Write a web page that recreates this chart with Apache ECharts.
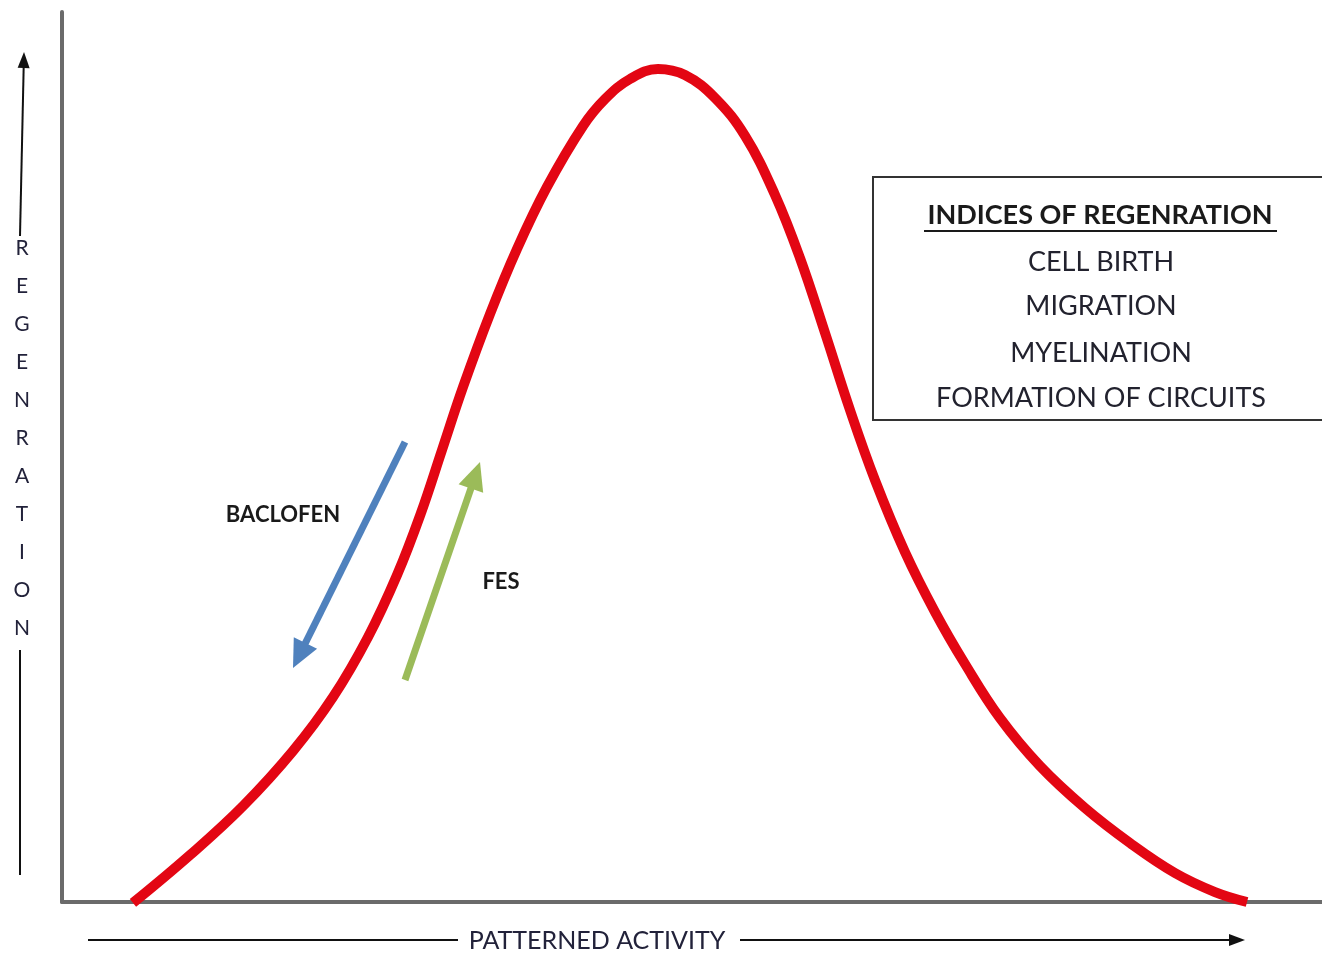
<!DOCTYPE html>
<html>
<head>
<meta charset="utf-8">
<title>Regeneration vs patterned activity</title>
<script src="https://cdn.jsdelivr.net/npm/echarts/dist/echarts.min.js"></script>
<style>
  html, body { margin: 0; padding: 0; background: #fff; }
  #main { width: 1322px; height: 956px; }
</style>
</head>
<body>
<div id="main"></div>
<script>
// curve: x = patterned activity, y = regeneration (0..100)
var activity = [5.63, 10.16, 14.37, 18.33, 21.51, 24.29, 26.59, 28.49, 30.16, 31.83, 33.97,
  36.11, 38.49, 41.35, 43.10, 45.08, 47.30, 49.44, 51.83, 54.21, 56.59, 58.57, 60.56,
  62.54, 64.52, 66.90, 69.29, 71.67, 74.44, 77.62, 81.19, 84.76, 88.33, 91.51, 94.05];
var regeneration = [-0.11, 5.28, 10.79, 16.97, 23.03, 29.78, 36.74, 43.71, 50.79, 57.87, 66.07,
  73.37, 80.34, 87.19, 90.22, 92.47, 93.60, 92.92, 90.34, 86.07, 79.44, 72.36, 63.93,
  55.28, 47.42, 39.33, 32.58, 26.74, 20.67, 15.28, 10.56, 6.63, 3.26, 1.12, 0.00];

var yLetters = ["R", "E", "G", "E", "N", "R", "A", "T", "I", "O", "N"];
var boxTitle = "INDICES OF REGENRATION";
var boxItems = ["CELL BIRTH", "MIGRATION", "MYELINATION", "FORMATION OF CIRCUITS"];

var font = "Lato, 'Open Sans', sans-serif";

// small helper for arrow heads on graphic lines
function arrowHead(x1, y1, x2, y2, len, half, color) {
  var dx = x2 - x1, dy = y2 - y1;
  var d = Math.sqrt(dx * dx + dy * dy);
  var ux = dx / d, uy = dy / d;
  var bx = x2 - ux * len, by = y2 - uy * len;
  return {
    type: "polygon",
    shape: { points: [[x2, y2], [bx - uy * half, by + ux * half], [bx + uy * half, by - ux * half]] },
    style: { fill: color }
  };
}
function arrow(x1, y1, x2, y2, width, len, half, color) {
  var dx = x2 - x1, dy = y2 - y1;
  var d = Math.sqrt(dx * dx + dy * dy);
  var ex = x2 - dx / d * (len - 2), ey = y2 - dy / d * (len - 2);
  return [
    { type: "line", shape: { x1: x1, y1: y1, x2: ex, y2: ey }, style: { stroke: color, lineWidth: width } },
    arrowHead(x1, y1, x2, y2, len, half, color)
  ];
}

document.addEventListener("DOMContentLoaded", function () {
  var chart = echarts.init(document.getElementById("main"));

  var graphics = [];

  // vertical REGENRATION label with arrow
  graphics = graphics.concat(arrow(20, 236, 24, 52, 2, 16, 6, "#111"));
  graphics.push({ type: "line", shape: { x1: 20, y1: 650, x2: 20, y2: 875 }, style: { stroke: "#111", lineWidth: 2 } });
  yLetters.forEach(function (ch, i) {
    graphics.push({
      type: "text", x: 22, y: 248 + i * 38,
      style: { text: ch, font: "21px " + font, fill: "#22223a", textAlign: "center", textVerticalAlign: "middle" }
    });
  });

  // horizontal PATTERNED ACTIVITY label with arrow
  graphics.push({ type: "line", shape: { x1: 88, y1: 940, x2: 458, y2: 940 }, style: { stroke: "#111", lineWidth: 2 } });
  graphics = graphics.concat(arrow(740, 940, 1245, 940, 2, 16, 6, "#111"));
  graphics.push({
    type: "text", x: 597, y: 941,
    style: { text: "PATTERNED ACTIVITY", font: "25px " + font, fill: "#22223a", textAlign: "center", textVerticalAlign: "middle" }
  });

  // box with indices
  graphics.push({
    type: "rect", shape: { x: 873, y: 177, width: 470, height: 243 },
    style: { stroke: "#333", lineWidth: 2, fill: "rgba(0,0,0,0)" }
  });
  graphics.push({
    type: "text", x: 1100, y: 215,
    style: { text: boxTitle, font: "bold 27px " + font, fill: "#1a1a1a", textAlign: "center", textVerticalAlign: "middle" }
  });
  graphics.push({ type: "line", shape: { x1: 924, y1: 231, x2: 1277, y2: 231 }, style: { stroke: "#1a1a1a", lineWidth: 2 } });
  var itemY = [262, 306, 353, 398];
  boxItems.forEach(function (t, i) {
    graphics.push({
      type: "text", x: 1101, y: itemY[i],
      style: { text: t, font: "27px " + font, fill: "#22222e", textAlign: "center", textVerticalAlign: "middle" }
    });
  });

  // BACLOFEN / FES arrows
  graphics = graphics.concat(arrow(405, 442, 293, 668, 7, 28, 13, "#4f81bd"));
  graphics = graphics.concat(arrow(405, 680, 480, 462, 7, 28, 13, "#9bbb59"));
  graphics.push({
    type: "text", x: 283, y: 515,
    style: { text: "BACLOFEN", font: "bold 22px " + font, fill: "#1a1a1a", textAlign: "center", textVerticalAlign: "middle" }
  });
  graphics.push({
    type: "text", x: 501, y: 582,
    style: { text: "FES", font: "bold 22px " + font, fill: "#1a1a1a", textAlign: "center", textVerticalAlign: "middle" }
  });

  var option = {
    animation: false,
    backgroundColor: "#fff",
    grid: { left: 62, right: 0, top: 12, bottom: 54 },
    xAxis: {
      type: "value", min: 0, max: 100,
      axisLine: { show: true, lineStyle: { color: "#6b6b6b", width: 4 } },
      axisTick: { show: false }, axisLabel: { show: false }, splitLine: { show: false }
    },
    yAxis: {
      type: "value", min: 0, max: 100,
      axisLine: { show: true, lineStyle: { color: "#6b6b6b", width: 4 } },
      axisTick: { show: false }, axisLabel: { show: false }, splitLine: { show: false }
    },
    series: [{
      type: "line",
      data: activity.map(function (x, i) { return [x, regeneration[i]]; }),
      smooth: 0.4,
      clip: false,
      showSymbol: false,
      lineStyle: { color: "#e30613", width: 10 }
    }],
    graphic: graphics
  };

  chart.setOption(option);
});
</script>
</body>
</html>
